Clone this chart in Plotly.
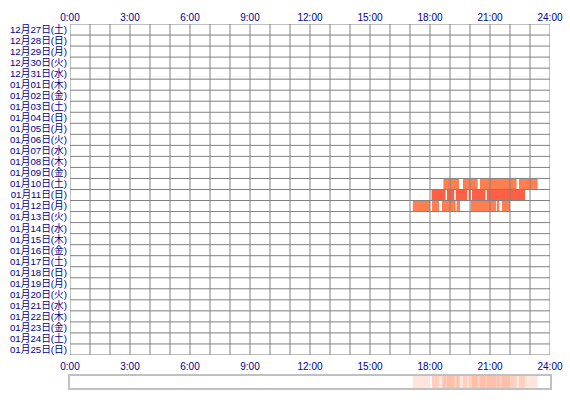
import plotly.graph_objects as go

# ---- data ----
day_labels = [
    "12月27日(土)", "12月28日(日)", "12月29日(月)", "12月30日(火)", "12月31日(水)",
    "01月01日(木)", "01月02日(金)", "01月03日(土)", "01月04日(日)", "01月05日(月)",
    "01月06日(火)", "01月07日(水)", "01月08日(木)", "01月09日(金)", "01月10日(土)",
    "01月11日(日)", "01月12日(月)", "01月13日(火)", "01月14日(水)", "01月15日(木)",
    "01月16日(金)", "01月17日(土)", "01月18日(日)", "01月19日(月)", "01月20日(火)",
    "01月21日(水)", "01月22日(木)", "01月23日(金)", "01月24日(土)", "01月25日(日)",
]
hour_ticks = [0, 3, 6, 9, 12, 15, 18, 21, 24]
hour_labels = ["0:00", "3:00", "6:00", "9:00", "12:00", "15:00", "18:00", "21:00", "24:00"]

# activity segments (day label, start hour, end hour)
seg_day = ["01月10日(土)"] * 4 + ["01月11日(日)"] * 6 + ["01月12日(月)"] * 7
seg_start = [18.67, 19.65, 20.50, 22.45,
             18.08, 18.85, 19.29, 19.93, 20.10, 20.84,
             17.14, 18.10, 18.60, 19.33, 20.04, 21.39, 21.59]
seg_end = [19.45, 20.38, 22.33, 23.38,
           18.78, 19.21, 19.86, 20.04, 20.77, 22.75,
           18.00, 18.45, 19.28, 19.50, 21.31, 21.47, 22.00]

# ---- figure ----
row_index = {d: i for i, d in enumerate(day_labels)}
seg_y = [row_index[d] for d in seg_day]
seg_len = [e - s for s, e in zip(seg_start, seg_end)]
day_color = {"01月10日(土)": "#FF7F50", "01月11日(日)": "#FF6045", "01月12日(月)": "#FF7F50"}
seg_color = [day_color[d] for d in seg_day]

navy = "#000090"
font_fam = "Liberation Sans, Noto Sans CJK JP"

fig = go.Figure()
fig.add_trace(go.Bar(
    orientation="h", y=seg_y, x=seg_len, base=seg_start, width=1.0,
    marker=dict(color=seg_color, line=dict(width=0)),
    xaxis="x", yaxis="y", showlegend=False, hoverinfo="skip",
))
fig.add_trace(go.Bar(
    orientation="h", y=[0] * len(seg_start), x=seg_len, base=seg_start, width=1.0,
    marker=dict(color="#FF7F50", opacity=0.2, line=dict(width=0)),
    xaxis="x2", yaxis="y2", showlegend=False, hoverinfo="skip",
))

# grid drawn above the bars
grid_col = "#808080"
nrows = len(day_labels)
for h in range(25):
    fig.add_shape(type="line", xref="x", yref="y", x0=h, x1=h, y0=-0.5, y1=nrows - 0.5,
                  line=dict(color=grid_col, width=1), layer="above")
for r in range(nrows + 1):
    fig.add_shape(type="line", xref="x", yref="y", x0=0, x1=24, y0=r - 0.5, y1=r - 0.5,
                  line=dict(color=grid_col, width=1), layer="above")

tickfont = dict(family=font_fam, size=10, color=navy)
ytickfont = dict(family=font_fam, size=9.7, color=navy)
fig.update_layout(
    width=570, height=400,
    margin=dict(l=70, r=20, t=24, b=12, autoexpand=False),
    paper_bgcolor="white", plot_bgcolor="white",
    barmode="overlay",
    xaxis=dict(range=[0, 24], side="top", tickvals=hour_ticks, ticktext=hour_labels,
               showgrid=False, zeroline=False, showline=False, ticks="",
               tickfont=tickfont, anchor="y", automargin=False),
    yaxis=dict(range=[nrows - 0.5, -0.5], domain=[0.0907, 1.0],
               tickvals=list(range(nrows)), ticktext=day_labels,
               showgrid=False, zeroline=False, showline=False, ticks="",
               tickfont=ytickfont, ticklabelstandoff=2, anchor="x", automargin=False),
    xaxis2=dict(range=[0, 24], side="top", tickvals=hour_ticks, ticktext=hour_labels,
                showgrid=False, zeroline=False, showline=True, mirror=True,
                linecolor="#c0c0c0", linewidth=1.5, ticks="",
                tickfont=tickfont, anchor="y2", automargin=False),
    yaxis2=dict(range=[-0.5, 0.5], domain=[0.0, 0.033], showticklabels=False,
                showgrid=False, zeroline=False, showline=True, mirror=True,
                linecolor="#c0c0c0", linewidth=1.5, ticks="", anchor="x2", automargin=False),
)

fig.write_html("out.html", config={"displayModeBar": False},
               post_script="document.body.style.margin='0';")
